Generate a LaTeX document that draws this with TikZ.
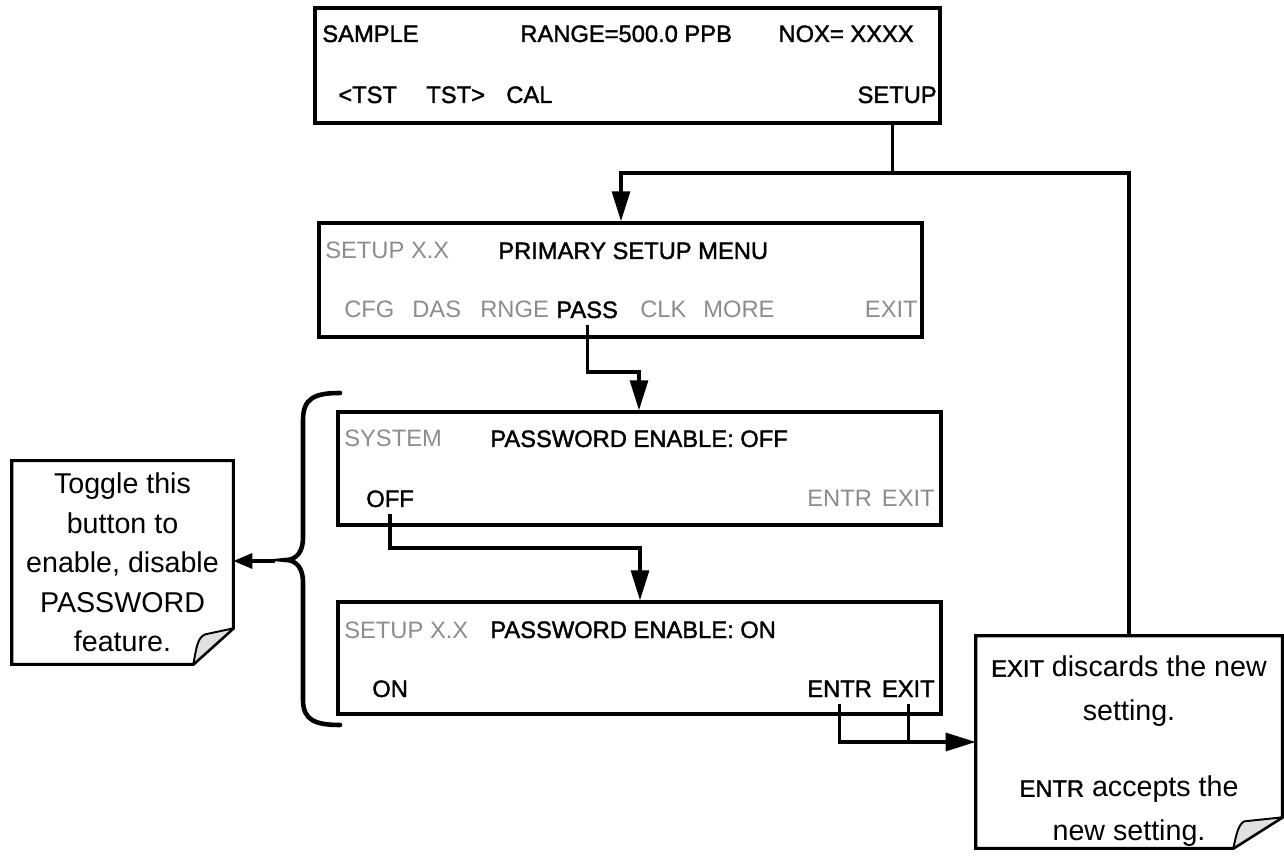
\documentclass[tikz,border=0pt]{standalone}
\usepackage{fontspec}
\setmainfont{Liberation Sans}
\newfontfamily\keybold[FakeBold=1.6]{Liberation Sans}
\usetikzlibrary{arrows.meta,calc}
\newcommand{\keyfont}{\fontsize{13.5}{16}\selectfont}

\begin{document}
\begin{tikzpicture}[x=0.02cm, y=-0.02cm,
  screen/.style={draw, line width=2pt, inner sep=0pt, minimum width=12.06cm},
  key/.style={inner xsep=0pt, inner ysep=3.5pt, font=\keybold\keyfont},
  dim/.style={inner xsep=0pt, inner ysep=3.5pt, font=\keyfont, text=black!45},
  wire/.style={line width=1.8pt},
  flow/.style={wire, -{Triangle[length=6mm, width=3.6mm]}},
  note/.style={inner sep=0pt},
  fold/.style={line width=1.1pt, fill=black!12, line join=round},
  notetext/.style={align=center, font=\fontsize{16.3}{22.5}\selectfont}]
\useasboundingbox (0,0) rectangle (1284,857);

% the four screens
\node[screen, minimum width=12.5cm, minimum height=2.3cm] (sample) at (627.5,65.5) {};
\node[screen, minimum height=2.28cm] (setupmenu) at (620.5,280) {};
\node[screen, minimum height=2.26cm] (passoff) at (639.5,468.5) {};
\node[screen, minimum height=2.24cm] (passon) at (639.5,658) {};

% SAMPLE screen
\node[key, anchor=base west] (sampletag) at (322,42) {SAMPLE};
\node[key, anchor=base west] (rangetag) at (520,42) {RANGE=500.0 PPB};
\node[key, anchor=base east] (noxtag) at (914,42) {NOX= XXXX};
\node[key, anchor=base west] (keytstl) at (338,103) {<TST};
\node[key, anchor=base west] (keytstr) at (426,103) {TST>};
\node[key, anchor=base west] (keycal) at (506,103) {CAL};
\node[key, anchor=base east] (keysetup) at (937,103) {SETUP};

% primary setup menu
\node[dim, anchor=base west] (menutag) at (325,259) {SETUP X.X};
\node[key, anchor=base west] (menutitle) at (498,259) {PRIMARY SETUP MENU};
\foreach \x/\k in {344/CFG,412/DAS,480/RNGE,640/CLK,703/MORE}
  \node[dim, anchor=base west] (key\k) at (\x,318) {\k};
\node[key, anchor=base west] (keypass) at (556,318) {PASS};
\node[dim, anchor=base east] (keyexita) at (918,318) {EXIT};

% password enable: off
\node[dim, anchor=base west] (systag) at (344,447) {SYSTEM};
\node[key, anchor=base west] (offtitle) at (490,447) {PASSWORD ENABLE: OFF};
\node[key, anchor=base west] (keyoff) at (366,507) {OFF};
\node[dim, anchor=base west] (keyentrb) at (807,507) {ENTR};
\node[dim, anchor=base east] (keyexitb) at (935,507) {EXIT};

% password enable: on
\node[dim, anchor=base west] (setuptag) at (344,638) {SETUP X.X};
\node[key, anchor=base west] (ontitle) at (490,638) {PASSWORD ENABLE: ON};
\node[key, anchor=base west] (keyon) at (372,697) {ON};
\node[key, anchor=base west] (keyentr) at (807,697) {ENTR};
\node[key, anchor=base east] (keyexit) at (935,697) {EXIT};

% notes
\node[note, minimum width=4.42cm, minimum height=4.06cm] (togglenote) at (122.5,562.5) {};
\node[note, minimum width=6.12cm, minimum height=4.24cm] (exitnote) at (1129,742) {};
\draw[wire] (togglenote.north west) -- (togglenote.north east) -- ($(togglenote.south east)+(0,-36)$)
  -- ($(togglenote.south east)+(-40,0)$) -- (togglenote.south west) -- cycle;
\draw[fold] ($(togglenote.south east)+(0,-36)$) -- ($(togglenote.south east)+(-40,0)$)
  .. controls +(3,-16) and +(-8,3) .. ($(togglenote.south east)+(-28,-30)$) -- cycle;
\draw[wire] (exitnote.north west) -- (exitnote.north east) -- ($(exitnote.south east)+(0,-31)$)
  -- ($(exitnote.south east)+(-49,0)$) -- (exitnote.south west) -- cycle;
\draw[fold] ($(exitnote.south east)+(0,-31)$) -- ($(exitnote.south east)+(-49,0)$)
  .. controls +(3,-14) and +(-6,3) .. ($(exitnote.south east)+(-38,-27)$) -- cycle;
\node[notetext] (toggletext) at (togglenote) {Toggle this\\button to\\enable, disable\\PASSWORD\\feature.};
\node[notetext, font=\fontsize{16.3}{24.7}\selectfont] (exittext) at (1129,751)
  {{\keybold\keyfont EXIT} discards the new\\setting.\\[19pt]{\keybold\keyfont ENTR} accepts the\\new setting.};

% connectors
\coordinate (setupbus) at (621,173);
\coordinate (passbus) at (639,372);
\coordinate (offbus) at (640,548);
\coordinate (bracetip) at (274,561);
\draw[wire] ($(keysetup |- sample.south)+(-5,0)$) -- ($(keysetup |- setupbus)+(-5,0)$);
\draw[flow] (exitnote.north) |- (setupbus) -- (setupbus |- setupmenu.north);
\draw[flow] (keypass.south) |- (passbus) -- (passbus |- passoff.north);
\draw[flow] (keyoff.south) |- (offbus) -- (offbus |- passon.north);
\draw[flow] (keyentr.south) |- (exitnote.west);
\draw[wire] (keyexit.south) -- (keyexit.south |- exitnote.west);

% brace round the two password screens
\draw[line width=2.6pt, line cap=round] (340,393) .. controls (315,393) and (303,398) .. (303,420)
  -- (303,538) .. controls (303,552) and (296,560) .. (286,560)
  .. controls (296,560) and (303,568) .. (303,582) -- (303,700)
  .. controls (303,720) and (315,725) .. (340,725);
\draw[wire, line cap=round, -{Triangle[length=3.8mm, width=3mm]}] (bracetip) -- (bracetip -| togglenote.east);
\end{tikzpicture}
\end{document}
